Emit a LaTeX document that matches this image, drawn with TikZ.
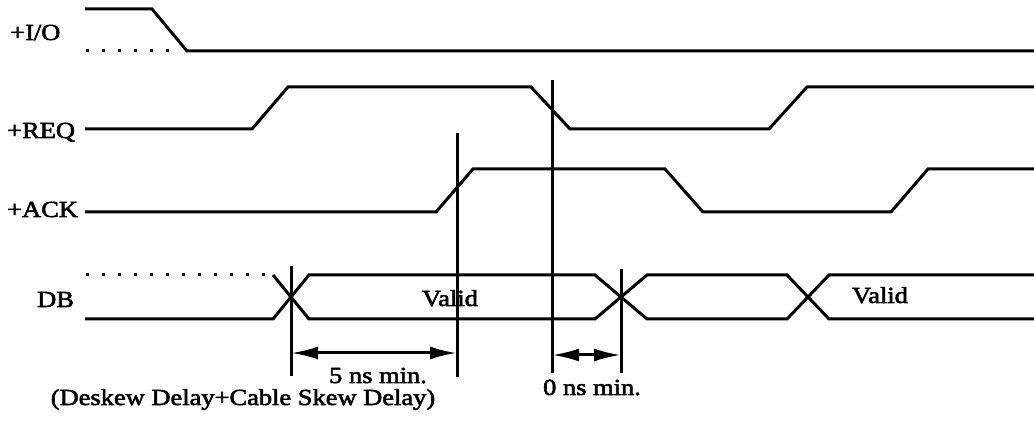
\documentclass[tikz,border=0pt]{standalone}
\usepackage{fontspec}
\setmainfont{Liberation Serif}[FakeStretch=1.15, FakeBold=2.5]
\usetikzlibrary{arrows.meta}

\begin{document}
\begin{tikzpicture}[x=1pt, y=-1pt, every node/.style={font=\fontsize{23}{27}\selectfont, inner sep=0pt}, wave/.style={line width=3pt}, dots/.style={line width=3pt, dash pattern=on 3pt off 13pt}, edge/.style={line width=3pt}, span/.style={line width=3pt, {Latex[length=27pt,width=13pt]}-{Latex[length=27pt,width=13pt]}}]
	\useasboundingbox (0,0) rectangle (1034,427);
	% signal names
	\node[anchor=base west] (io) at (10,40) {+I/O};
	\node[anchor=base west] (req) at (7,138) {+REQ};
	\node[anchor=base west] (ack) at (7,217) {+ACK};
	\node[anchor=base west] (db) at (37,307) {DB};
	% waveforms
	\draw[wave] (85,9) -- (152,9) -- (187,51) -- (1034,51);
	\draw[dots] (86,51) -- (172,51);
	\draw[wave] (85,129) -- (252,129) -- (288,87) -- (531,87) -- (570,129) -- (769,129) -- (807,87) -- (1034,87);
	\draw[wave] (85,212) -- (436,212) -- (473,169) -- (665,169) -- (703,212) -- (891,212) -- (928,169) -- (1034,169);
	\draw[dots] (86,275) -- (268,275);
	\draw[wave] (273,275) -- (309,319) -- (595,319) -- (647,275) -- (787,275) -- (829,319) -- (1034,319);
	\draw[wave] (85,319) -- (273,319) -- (309,275) -- (595,275) -- (647,319) -- (787,319) -- (829,275) -- (1034,275);
	\node[anchor=base] (valid1) at (450,306) {Valid};
	\node[anchor=base] (valid2) at (880,303) {Valid};
	% timing edges
	\coordinate (e1t) at (291,266); \coordinate (e1b) at (291,376);
	\coordinate (e2t) at (457,133); \coordinate (e2b) at (457,377);
	\coordinate (e3t) at (552,80);  \coordinate (e3b) at (552,373);
	\coordinate (e4t) at (621,269); \coordinate (e4b) at (621,373);
	\foreach \e in {1,...,4} \draw[edge] (e\e t) -- (e\e b);
	% delays
	\coordinate (s1) at (291,353); \coordinate (s2) at (457,353);
	\coordinate (s3) at (552,355); \coordinate (s4) at (621,355);
	\draw[span] (s1) -- (s2);
	\draw[span] (s3) -- (s4);
	\node[anchor=base] (t5) at (378,383) {5 ns min.};
	\node[anchor=base] (skew) at (243,405) {(Deskew Delay+Cable Skew Delay)};
	\node[anchor=base] (t0) at (592,395) {0 ns min.};
\end{tikzpicture}
\end{document}
